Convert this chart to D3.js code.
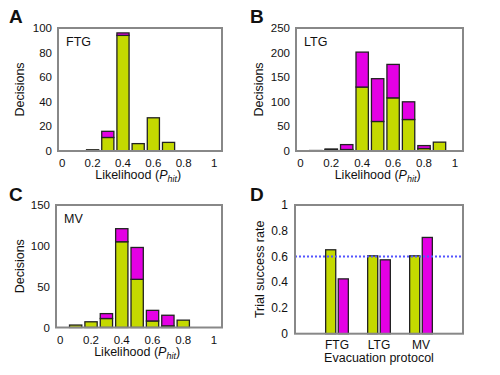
<!DOCTYPE html>
<html><head><meta charset="utf-8">
<script src="https://cdn.jsdelivr.net/npm/d3@7"></script>
<style>body{margin:0;background:#fff}svg{display:block}text{font-family:"Liberation Sans",Arial,sans-serif;fill:#111}</style>
</head><body>
<script>
const bins = [0.1,0.2,0.3,0.4,0.5,0.6,0.7,0.8,0.9];
const ftgGreen   = [0,1,11,94,6,27,7,0,0];
const ftgMagenta = [0,0,5,2,0,0,0,0,0];
const ltgGreen   = [1,3,3,130,60,108,64,5,18];
const ltgMagenta = [0,1,10,71,87,68,36,6,0];
const mvGreen    = [3,7,11,105,59,8,2,9,0];
const mvMagenta  = [0,0,6,16,39,13,13,0,0];
const xTicks = [0,0.2,0.4,0.6,0.8,1];
const xTickLabels = ["0","0.2","0.4","0.6","0.8","1"];
const protocols = ["FTG","LTG","MV"];
const successGreen   = [0.652,0.605,0.605];
const successMagenta = [0.426,0.574,0.748];
const chanceLevel = 0.6;
const dTicks = [0,0.2,0.4,0.6,0.8,1];

const GREEN = "#c4d900", MAGENTA = "#e400e4", BOX = "#888";
const svg = d3.select("body").append("svg").attr("width",500).attr("height",375);

function panelLetter(t,x,y){
  svg.append("text").attr("x",x).attr("y",y).attr("font-size",19).attr("font-weight","bold").text(t);
}
function box(x0,x1,y0,y1){
  svg.append("rect").attr("x",x0).attr("y",y0).attr("width",x1-x0).attr("height",y1-y0)
    .attr("fill","none").attr("stroke",BOX).attr("stroke-width",2);
}
function hist(o){
  const x = d3.scaleLinear().domain([-0.028,1.052]).range([o.x0,o.x1]);
  const y = d3.scaleLinear().domain([0,o.ymax]).range([o.y1,o.y0]);
  const g = svg.append("g");
  const bw = x(0.08)-x(0);
  bins.forEach((b,i)=>{
    const gv=o.green[i], mv=o.magenta[i];
    if(gv>0) g.append("rect").attr("x",x(b)-bw/2).attr("width",bw).attr("y",y(gv)).attr("height",y(0)-y(gv))
      .attr("fill",GREEN).attr("stroke","#222").attr("stroke-width",1.3);
    if(mv>0) g.append("rect").attr("x",x(b)-bw/2).attr("width",bw).attr("y",y(gv+mv)).attr("height",y(gv)-y(gv+mv))
      .attr("fill",MAGENTA).attr("stroke","#222").attr("stroke-width",1.3);
  });
  box(o.x0,o.x1,o.y0,o.y1);
  o.yTicks.forEach(t=>{
    svg.append("text").attr("x",o.x0-6).attr("y",y(t)).attr("dy","0.35em").attr("text-anchor","end").attr("font-size",11.5).text(t);
  });
  xTicks.forEach((t,i)=>{
    svg.append("text").attr("x",x(t)).attr("y",o.y1+12).attr("dy","0.35em").attr("text-anchor","middle").attr("font-size",11.5).text(xTickLabels[i]);
  });
  const xl = svg.append("text").attr("x",(x(0)+x(1))/2).attr("y",o.y1+28).attr("text-anchor","middle").attr("font-size",12.5);
  xl.append("tspan").text("Likelihood (");
  xl.append("tspan").attr("font-style","italic").text("P");
  xl.append("tspan").attr("font-style","italic").attr("font-size",9).attr("dy",3).text("hit");
  xl.append("tspan").attr("dy",-3).text(")");
  svg.append("text").attr("transform",`translate(${o.ylx},${(o.y0+o.y1)/2}) rotate(-90)`).attr("text-anchor","middle").attr("font-size",12.5).text("Decisions");
  svg.append("text").attr("x",o.x0+8).attr("y",o.y0+14).attr("dy","0.35em").attr("font-size",12.5).text(o.label);
}

hist({x0:58,x1:222,y0:28,y1:151,ymax:100,yTicks:[0,20,40,60,80,100],green:ftgGreen,magenta:ftgMagenta,label:"FTG",ylx:24});
hist({x0:296,x1:463,y0:28,y1:151,ymax:250,yTicks:[0,50,100,150,200,250],green:ltgGreen,magenta:ltgMagenta,label:"LTG",ylx:263});
hist({x0:56,x1:222,y0:205,y1:327.5,ymax:150,yTicks:[0,50,100,150],green:mvGreen,magenta:mvMagenta,label:"MV",ylx:24});

panelLetter("A",9,23); panelLetter("B",250,23); panelLetter("C",9,201); panelLetter("D",250,201);

// Panel D
(function(){
  const x0=295,x1=463,y0=205,y1=333.7;
  const x = d3.scaleLinear().domain([0,4]).range([x0,x1]);
  const y = d3.scaleLinear().domain([0,1]).range([y1,y0]);
  const bw = x(0.24)-x(0);
  protocols.forEach((p,i)=>{
    const c=i+1;
    svg.append("rect").attr("x",x(c-0.27)).attr("width",bw).attr("y",y(successGreen[i])).attr("height",y(0)-y(successGreen[i]))
      .attr("fill",GREEN).attr("stroke","#222").attr("stroke-width",1.3);
    svg.append("rect").attr("x",x(c+0.03)).attr("width",bw).attr("y",y(successMagenta[i])).attr("height",y(0)-y(successMagenta[i]))
      .attr("fill",MAGENTA).attr("stroke","#222").attr("stroke-width",1.3);
    svg.append("text").attr("x",x(c)).attr("y",y1+11).attr("dy","0.35em").attr("text-anchor","middle").attr("font-size",12).text(p);
  });
  svg.append("line").attr("x1",x0).attr("x2",x1).attr("y1",y(chanceLevel)).attr("y2",y(chanceLevel))
    .attr("stroke","#5555ff").attr("stroke-width",2).attr("stroke-dasharray","2,2");
  box(x0,x1,y0,y1);
  dTicks.forEach(t=>{
    svg.append("text").attr("x",x0-7).attr("y",y(t)).attr("dy","0.35em").attr("text-anchor","end").attr("font-size",12).text(t);
  });
  svg.append("text").attr("x",(x0+x1)/2).attr("y",y1+28).attr("text-anchor","middle").attr("font-size",12.5).text("Evacuation protocol");
  svg.append("text").attr("transform",`translate(264,${(y0+y1)/2}) rotate(-90)`).attr("text-anchor","middle").attr("font-size",12.5).text("Trial success rate");
})();
</script>
</body></html>
